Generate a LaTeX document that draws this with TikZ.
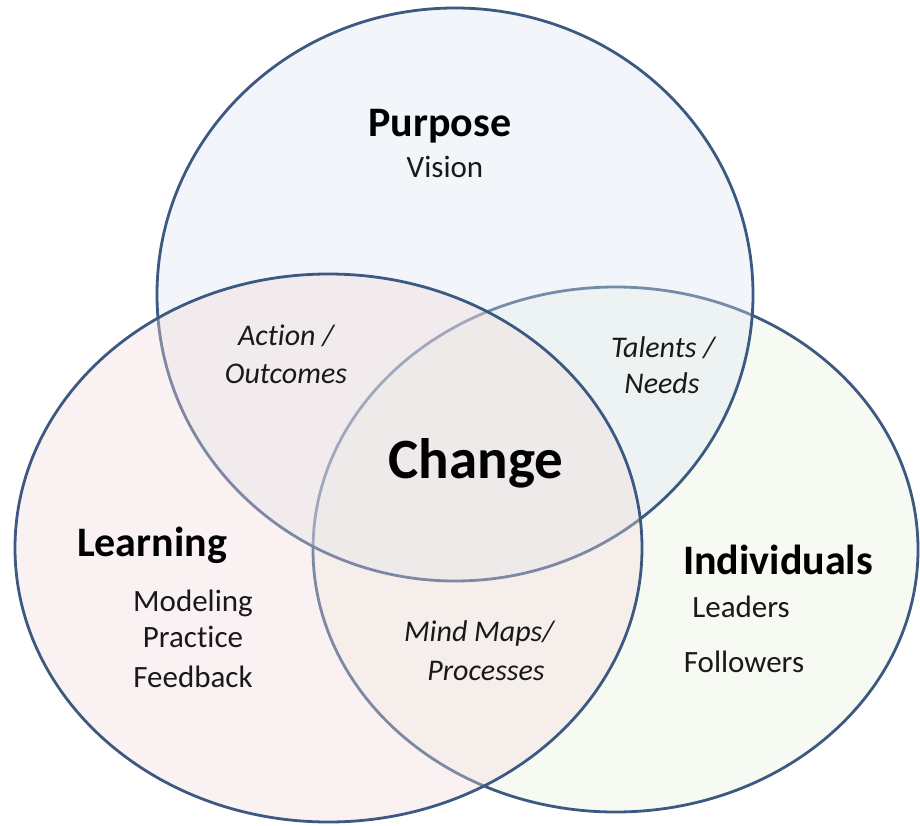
\documentclass[tikz,border=0pt]{standalone}
\usepackage{fontspec}
\setmainfont{Carlito}[Ligatures=NoCommon]
\usetikzlibrary{shapes.geometric}
\definecolor{rim}{HTML}{3C5982}
\definecolor{purposefill}{HTML}{DCE6F2}
\definecolor{learnfill}{HTML}{F2DCDB}
\definecolor{indivfill}{HTML}{EBF1DE}
\begin{document}
\begin{tikzpicture}[x=1pt,y=-1pt,
  setbox/.style={ellipse, draw=rim, line width=2.8pt, inner sep=0pt, fill opacity=0.36},
  title/.style={font=\fontsize{42}{42}\selectfont\bfseries, anchor=base, inner sep=0pt},
  item/.style={font=\fontsize{31}{31}\selectfont, anchor=base, inner sep=0pt, text=black!90},
  pair/.style={font=\fontsize{30}{30}\selectfont\itshape, anchor=base, inner sep=0pt, text=black!90}]
\useasboundingbox[fill=white] (0,0) rectangle (920,826);
% the three sets
\node[setbox, fill=indivfill, minimum width=605pt, minimum height=525pt] (individuals) at (615.5,549.5) {};
\node[setbox, fill=purposefill, minimum width=596pt, minimum height=573pt] (purpose) at (455,294.5) {};
\node[setbox, fill=learnfill, minimum width=627pt, minimum height=548pt] (learning) at (328.5,548) {};
% set titles and members
\node[title] (tpurpose) at (440,137) {Purpose};
\node[item] (vision) at (445,178) {Vision};
\node[title] (tlearning) at (152,556) {Learning};
\node[item] (modeling) at (193,611) {Modeling};
\node[item] (practice) at (193,647) {Practice};
\node[item] (feedback) at (193,687) {Feedback};
\node[title] (tindiv) at (778,574) {Individuals};
\node[item] (leaders) at (741,617) {Leaders};
\node[item] (followers) at (744,672) {Followers};
% overlaps
\node[pair] (action) at (286,345) {Action /};
\node[pair] (outcomes) at (286,383) {Outcomes};
\node[pair] (talents) at (663,357) {Talents /};
\node[pair] (needs) at (662,393) {Needs};
\node[pair] (mindmaps) at (479,641) {Mind Maps/};
\node[pair] (processes) at (486,680) {Processes};
\node[font=\fontsize{57}{57}\selectfont\bfseries, anchor=base, inner sep=0pt] (change) at (476,478) {Change};
\end{tikzpicture}
\end{document}
